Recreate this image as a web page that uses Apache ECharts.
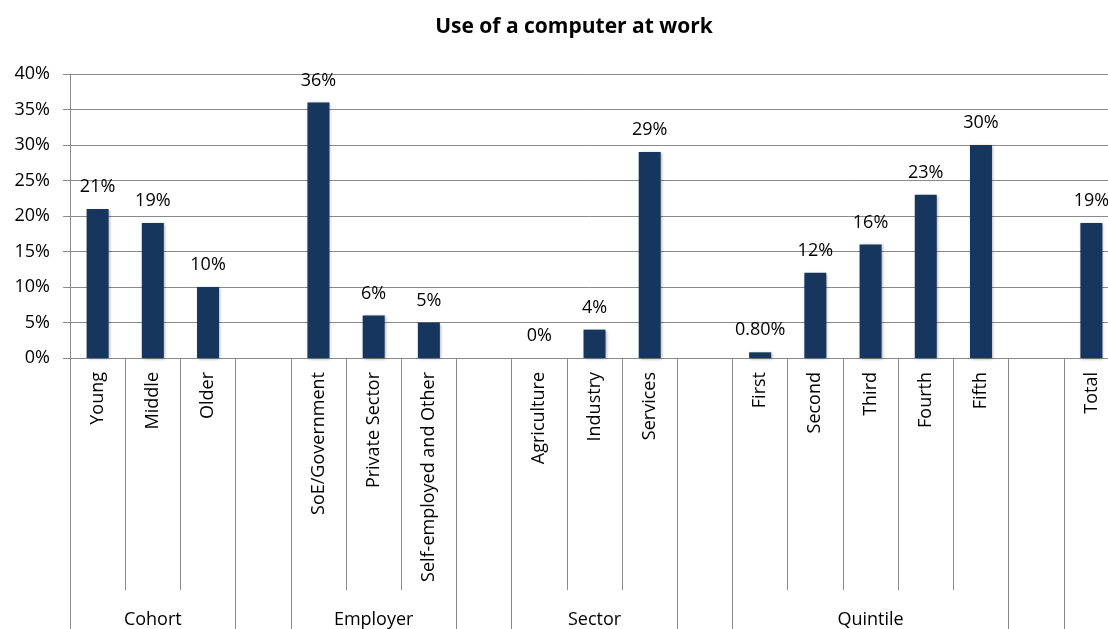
<!DOCTYPE html>
<html>
<head>
<meta charset="utf-8">
<script src="https://cdn.jsdelivr.net/npm/echarts@6/dist/echarts.min.js"></script>
<style>
  html, body { margin: 0; padding: 0; background: #fff; }
  #chart { width: 1108px; height: 629px; }
</style>
</head>
<body>
<div id="chart"></div>
<script>
// Categories along the x axis; empty strings are spacer slots between groups
const categories = ['Young', 'Middle', 'Older', '',
  'SoE/Government', 'Private Sector', 'Self-employed and Other', '',
  'Agriculture', 'Industry', 'Services', '',
  'First', 'Second', 'Third', 'Fourth', 'Fifth', '',
  'Total'];

// Share using a computer at work, in percent (null = spacer)
const values = [21, 19, 10, null,
  36, 6, 5, null,
  0, 4, 29, null,
  0.8, 12, 16, 23, 30, null,
  19];

// Group names shown on the second row, placed at the middle slot of each group
const groupLabels = ['', 'Cohort', '', '',
  '', 'Employer', '', '',
  '', 'Sector', '', '',
  '', '', 'Quintile', '', '', '',
  ''];

// Slots whose left edge starts a new group
const groupStarts = [0, 3, 4, 7, 8, 11, 12, 17, 18];

const yTicks = { min: 0, max: 40, interval: 5 };

const FONT = '"Open Sans", "Noto Sans", sans-serif';
const GREY = '#8a8a8a';
const FS = 18;

const chart = echarts.init(document.getElementById('chart'), null, { renderer: 'canvas' });

chart.setOption({
  animation: false,
  backgroundColor: '#ffffff',
  title: {
    text: 'Use of a computer at work',
    left: 569,
    top: 12,
    textAlign: 'center',
    textStyle: { fontFamily: FONT, fontSize: 21, fontWeight: 'bold', color: '#000' }
  },
  // plot runs slightly past the right edge of the canvas
  grid: {
    left: 70, width: 1049, top: 74, bottom: 271,
    containLabel: false, outerBoundsMode: 'none'
  },
  xAxis: [
    {
      type: 'category',
      data: categories,
      position: 'bottom',
      axisLine: { show: true, lineStyle: { color: GREY, width: 1 } },
      axisTick: { show: true, length: 232, interval: 0, lineStyle: { color: GREY, width: 1 } },
      axisLabel: {
        interval: 0, rotate: 90, margin: 14,
        fontFamily: FONT, fontSize: FS, color: '#000'
      }
    },
    {
      type: 'category',
      data: groupLabels,
      position: 'bottom',
      offset: 232,
      axisLine: { show: false },
      axisTick: {
        show: true, length: 45,
        interval: (i) => groupStarts.indexOf(i) !== -1,
        lineStyle: { color: GREY, width: 1 }
      },
      axisLabel: { interval: 0, margin: 21, fontFamily: FONT, fontSize: FS, color: '#000' }
    }
  ],
  yAxis: {
    type: 'value',
    min: yTicks.min,
    max: yTicks.max,
    interval: yTicks.interval,
    axisLine: { show: true, lineStyle: { color: GREY, width: 1 } },
    axisTick: { show: true, length: 7, lineStyle: { color: GREY } },
    splitLine: { show: true, lineStyle: { color: GREY, width: 1 } },
    axisLabel: {
      formatter: '{value}%', margin: 20,
      fontFamily: FONT, fontSize: FS, color: '#000'
    }
  },
  series: [
    {
      type: 'bar',
      data: values,
      xAxisIndex: 0,
      barWidth: 22,
      itemStyle: {
        color: '#17365d',
        shadowColor: 'rgba(0,0,0,0.35)',
        shadowBlur: 3,
        shadowOffsetX: 1,
        shadowOffsetY: 1
      },
      label: {
        show: true,
        position: 'top',
        distance: 13,
        fontFamily: FONT,
        fontSize: FS,
        color: '#000',
        formatter: (p) => {
          const v = p.value;
          if (v === null || v === undefined) return '';
          return (Number.isInteger(v) ? String(v) : v.toFixed(2)) + '%';
        }
      }
    }
  ]
});
</script>
</body>
</html>
